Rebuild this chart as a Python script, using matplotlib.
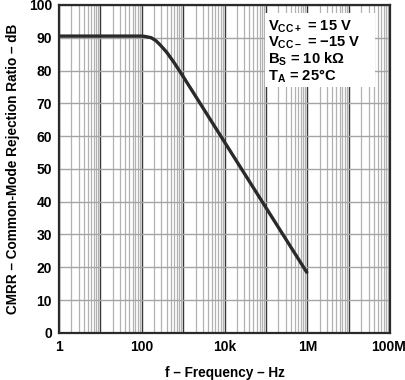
import matplotlib
matplotlib.use('Agg')
import matplotlib.pyplot as plt
import matplotlib.transforms as mtransforms

# CMRR vs frequency
freq_hz = [1, 10, 100, 120, 170, 220, 280, 400, 600, 1e3, 1e4, 1e5, 1e6]
cmrr_db = [90.5, 90.5, 90.5, 90.4, 90.0, 89.1, 87.8, 85.6, 82.5, 78.2, 58.2, 38.2, 18.2]

xtick_pos = [1, 1e2, 1e4, 1e6, 1e8]
xtick_labels = ['1', '100', '10k', '1M', '100M']
ytick_pos = list(range(0, 101, 10))

cond_lines = [r'$\mathbf{V_{CC+}}$ = 15 V',
              r'$\mathbf{V_{CC-}}$ = $\mathbf{-}$15 V',
              r'$\mathbf{B_{S}}$ = 10 k$\mathbf{\Omega}$',
              r'$\mathbf{T_{A}}$ = 25°C']

plt.rcParams['font.family'] = ['Liberation Sans', 'DejaVu Sans']
plt.rcParams['font.weight'] = 'bold'
plt.rcParams['mathtext.fontset'] = 'custom'
plt.rcParams['mathtext.rm'] = 'Liberation Sans:bold'
plt.rcParams['mathtext.bf'] = 'Liberation Sans:bold'
plt.rcParams['mathtext.it'] = 'Liberation Sans:bold'

fig = plt.figure(figsize=(4.06, 3.80), dpi=100)
ax = fig.add_axes([0.145, 0.124, 0.816, 0.863])

ax.set_xscale('log')
ax.set_xlim(1, 1e8)
ax.set_ylim(0, 100)

# grid: decades dark, minors light grey
for dec in range(0, 9):
    base = 10 ** dec
    ax.axvline(base, color='#383838', lw=1.0, zorder=1)
    if dec < 8:
        for m in range(2, 10):
            ax.axvline(m * base, color='#b2b2b2', lw=0.9, zorder=1)
for y in ytick_pos:
    ax.axhline(y, color='#a4a4a4', lw=1.0, zorder=1)

ax.plot(freq_hz, cmrr_db, color='#2a2a2a', lw=2.4, zorder=3,
        solid_capstyle='butt')

ax.set_xticks(xtick_pos)
ax.set_xticklabels(xtick_labels)
ax.set_xticks([], minor=True)
ax.set_yticks(ytick_pos)
ax.tick_params(length=0, labelsize=10, pad=5)
for lab in ax.get_xticklabels() + ax.get_yticklabels():
    lab.set_fontweight('bold')
# keep the last frequency label inside the canvas
last = ax.get_xticklabels()[-1]
last.set_transform(last.get_transform() +
                   mtransforms.ScaledTranslation(-2 / 100, 0, fig.dpi_scale_trans))

for s in ax.spines.values():
    s.set_linewidth(1.6)
    s.set_color('#2a2a2a')
    s.set_zorder(5)

ax.set_xlabel('f – Frequency – Hz', fontsize=9.8, fontweight='bold', labelpad=9)
ax.set_ylabel('CMRR – Common-Mode Rejection Ratio – dB', fontsize=9.8,
              fontweight='bold', labelpad=6)

# conditions box
ax.add_patch(plt.Rectangle((0.622, 0.75), 0.333, 0.226, transform=ax.transAxes,
                           facecolor='white', edgecolor='none', zorder=4))
for i, txt in enumerate(cond_lines):
    ax.text(0.63, 0.933 - i * 0.0497, txt, transform=ax.transAxes,
            fontsize=10.6, fontweight='bold', va='center', ha='left', zorder=6)

fig.savefig('out.png', dpi=100)
